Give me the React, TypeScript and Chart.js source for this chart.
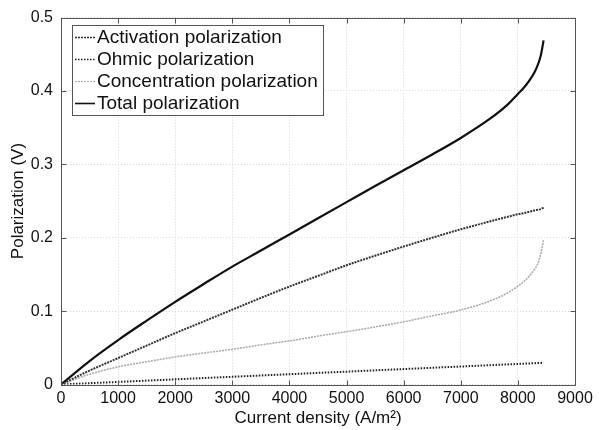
import { useEffect, useRef } from "react";
import { Chart, registerables } from "chart.js";

Chart.register(...registerables);

// Current density (A/m^2)
const currentDensity = [0, 500, 1000, 1500, 2000, 2500, 3000, 3500, 4000, 4500, 5000, 5500, 6000, 6500, 7000, 7500, 7800, 8000, 8100, 8200, 8300, 8350, 8400, 8450];
// Polarization (V)
const activation = [0, 0.019, 0.036, 0.053, 0.07, 0.086, 0.102, 0.118, 0.1335, 0.148, 0.1625, 0.1755, 0.188, 0.2, 0.2115, 0.222, 0.228, 0.232, 0.2335, 0.2355, 0.2375, 0.238, 0.239, 0.241];
const ohmic = [0, 0.0018, 0.0035, 0.0053, 0.007, 0.0088, 0.0105, 0.0123, 0.014, 0.0158, 0.0175, 0.0193, 0.021, 0.0228, 0.0245, 0.0263, 0.0273, 0.028, 0.0284, 0.0287, 0.0291, 0.0292, 0.0294, 0.0296];
const concentration = [0, 0.014, 0.024, 0.031, 0.0375, 0.043, 0.048, 0.054, 0.0595, 0.066, 0.072, 0.0785, 0.0855, 0.0935, 0.1015, 0.1135, 0.124, 0.134, 0.14, 0.148, 0.158, 0.165, 0.178, 0.197];
const total = [0, 0.032, 0.0605, 0.087, 0.1127, 0.137, 0.1607, 0.1825, 0.2045, 0.2265, 0.2485, 0.2705, 0.292, 0.3135, 0.336, 0.3615, 0.38, 0.396, 0.404, 0.414, 0.427, 0.436, 0.448, 0.469];

const seriesLabels = ["Activation polarization", "Ohmic polarization", "Concentration polarization", "Total polarization"];
const xTickValues = [0, 1000, 2000, 3000, 4000, 5000, 6000, 7000, 8000, 9000];
const yTickValues = [0, 0.1, 0.2, 0.3, 0.4, 0.5];
const xTitle = "Current density (A/m²)";
const yTitle = "Polarization (V)";

const FONT = "'Liberation Sans', Arial, Helvetica, sans-serif";

const toPoints = (ys: number[]) => ys.map((y, i) => ({ x: currentDensity[i], y }));

const framePlugin = {
  id: "frame",
  afterDatasetsDraw(chart: any) {
    const { ctx, chartArea, scales } = chart;
    const { left, right, top, bottom } = chartArea;
    ctx.save();
    ctx.strokeStyle = "#555";
    ctx.lineWidth = 1;
    ctx.setLineDash([]);
    const L = Math.round(left) + 0.5;
    const R = Math.round(right) + 0.5;
    const T = Math.round(top) + 0.5;
    const B = Math.round(bottom) + 0.5;
    ctx.strokeRect(L, T, R - L, B - T);
    ctx.beginPath();
    for (const v of xTickValues) {
      const px = Math.round(scales.x.getPixelForValue(v)) + 0.5;
      ctx.moveTo(px, B);
      ctx.lineTo(px, B - 5);
      ctx.moveTo(px, T);
      ctx.lineTo(px, T + 5);
    }
    for (const v of yTickValues) {
      const py = Math.round(scales.y.getPixelForValue(v)) + 0.5;
      ctx.moveTo(L, py);
      ctx.lineTo(L + 5, py);
      ctx.moveTo(R, py);
      ctx.lineTo(R - 5, py);
    }
    ctx.stroke();
    ctx.restore();
  },
};

const legendPlugin = {
  id: "customLegend",
  afterDraw(chart: any) {
    const { ctx } = chart;
    const bx = 72.5, by = 25.5, bw = 251, bh = 90;
    ctx.save();
    ctx.fillStyle = "#fff";
    ctx.fillRect(bx, by, bw, bh);
    ctx.strokeStyle = "#555";
    ctx.lineWidth = 1;
    ctx.setLineDash([]);
    ctx.strokeRect(bx, by, bw, bh);
    ctx.font = `19px ${FONT}`;
    ctx.textBaseline = "middle";
    ctx.textAlign = "left";
    chart.data.datasets.forEach((ds: any, i: number) => {
      const cy = 37 + i * 22;
      ctx.beginPath();
      ctx.strokeStyle = ds.borderColor;
      ctx.lineWidth = Math.max(1, ds.borderWidth - 0.6);
      ctx.setLineDash(ds.borderDash || []);
      ctx.moveTo(75, cy + 0.5);
      ctx.lineTo(95, cy + 0.5);
      ctx.stroke();
      ctx.setLineDash([]);
      ctx.fillStyle = "#111";
      ctx.fillText(ds.label, 97, cy + 1);
    });
    ctx.restore();
  },
};

export default function App() {
  const ref = useRef<HTMLCanvasElement | null>(null);

  useEffect(() => {
    if (!ref.current) return;
    const common = { pointRadius: 0, cubicInterpolationMode: "monotone" as const };
    const chart = new Chart(ref.current, {
      type: "line",
      data: {
        datasets: [
          {
            label: seriesLabels[0],
            data: toPoints(activation),
            borderColor: "#333",
            borderWidth: 2,
            borderDash: [2, 1],
            ...common,
          },
          {
            label: seriesLabels[1],
            data: toPoints(ohmic),
            borderColor: "#222",
            borderWidth: 2,
            borderDash: [1.5, 1.5],
            ...common,
          },
          {
            label: seriesLabels[2],
            data: toPoints(concentration),
            borderColor: "#a8a8a8",
            borderWidth: 1.5,
            borderDash: [2, 1],
            ...common,
          },
          {
            label: seriesLabels[3],
            data: toPoints(total),
            borderColor: "#111",
            borderWidth: 2.2,
            ...common,
          },
        ],
      },
      options: {
        responsive: false,
        animation: false,
        devicePixelRatio: 1,
        layout: { padding: { left: 0, top: 16.5, right: 24, bottom: 0 } },
        plugins: {
          legend: { display: false },
          tooltip: { enabled: false },
        },
        scales: {
          x: {
            type: "linear",
            min: 0,
            max: 9000,
            afterFit: (s: any) => {
              s.height = 45.5;
            },
            afterBuildTicks: (s: any) => {
              s.ticks = xTickValues.map((v) => ({ value: v }));
            },
            ticks: {
              padding: 4,
              color: "#111",
              font: { family: FONT, size: 16 },
              maxRotation: 0,
              autoSkip: false,
              callback: (v: any) => String(v),
            },
            grid: { color: "#d4d4d4", lineWidth: 1, drawTicks: false },
            border: { display: false, dash: [1, 2] },
            title: {
              display: true,
              text: xTitle,
              color: "#111",
              font: { family: FONT, size: 17 },
              padding: { top: 0, bottom: 1 },
            },
          },
          y: {
            type: "linear",
            min: 0,
            max: 0.5,
            afterFit: (s: any) => {
              s.width = 61;
            },
            afterBuildTicks: (s: any) => {
              s.ticks = yTickValues.map((v) => ({ value: v }));
            },
            ticks: {
              padding: 8,
              color: "#111",
              font: { family: FONT, size: 16 },
              autoSkip: false,
              callback: (v: any) => String(Math.round(v * 10) / 10),
            },
            grid: { color: "#d4d4d4", lineWidth: 1, drawTicks: false },
            border: { display: false, dash: [1, 2] },
            title: {
              display: true,
              text: yTitle,
              color: "#111",
              font: { family: FONT, size: 17 },
              padding: { top: 8, bottom: 0 },
            },
          },
        },
      },
      plugins: [framePlugin, legendPlugin],
    });
    return () => chart.destroy();
  }, []);

  return (
    <canvas
      ref={ref}
      width={599}
      height={430}
      style={{ position: "fixed", left: 0, top: 0, width: "599px", height: "430px", background: "#fff" }}
    />
  );
}
